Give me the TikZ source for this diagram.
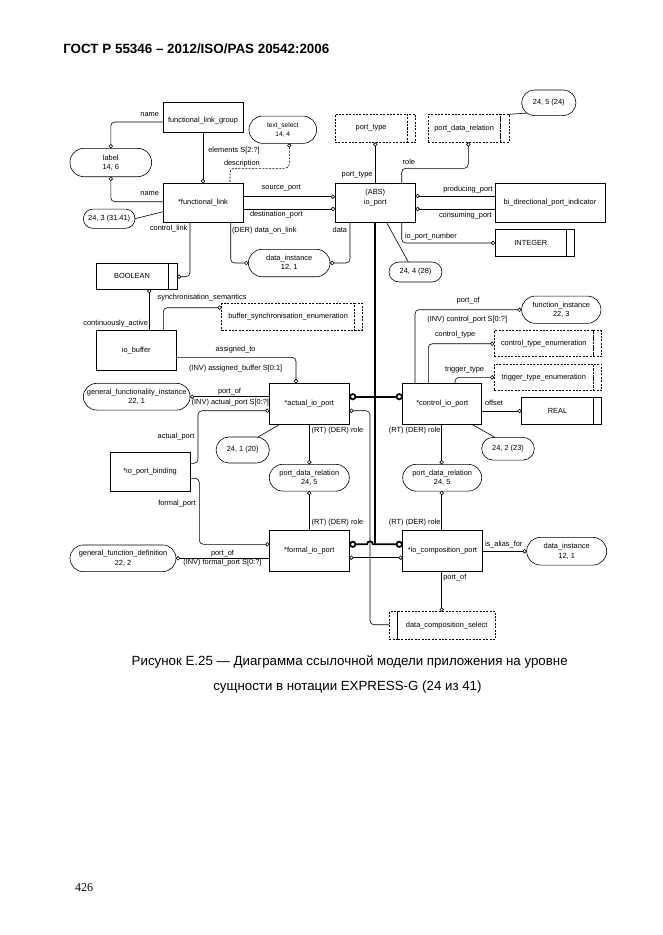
\documentclass[tikz,border=0pt]{standalone}
\usepackage{fontspec}
\setmainfont{Liberation Sans}
\newfontfamily\pgnumfont{Liberation Serif}
\usetikzlibrary{arrows.meta,shapes.misc}
\newcommand\dgf{\fontsize{7.4}{9.2}\selectfont}
\begin{document}
\begin{tikzpicture}[x=1pt,y=-1pt,
  every node/.style={inner sep=0pt, outer sep=0pt, font=\dgf},
  ent/.style={draw, line width=0.6pt, align=center},
  typ/.style={draw, dash pattern=on 2pt off 1.4pt, line width=0.6pt, align=center},
  pill/.style={draw, rounded rectangle, line width=0.6pt, align=center},
  conn/.style={line width=0.6pt},
  rc/.style={rounded corners=4pt},
  oc/.tip={Circle[open,length=4.2pt,width=4.2pt]},
  toc/.tip={Circle[open,length=7pt,width=7pt]},
  thk/.style={line width=1.7pt},
  mainl/.style={line width=2.4pt},
]
\fill[white] (0,0) rectangle (662,935);
\useasboundingbox (0,0) rectangle (662,935);

% header, caption, page number
\node[anchor=west, font=\fontsize{13.4}{15}\selectfont\bfseries] (hdr) at (63.3,49) {ГОСТ Р 55346 – 2012/ISO/PAS 20542:2006};
\node[anchor=west, font=\fontsize{13.3}{16}\selectfont] (cap1) at (131.7,661.5) {Рисунок Е.25 — Диаграмма ссылочной модели приложения на уровне};
\node[anchor=west, font=\fontsize{13.3}{16}\selectfont] (cap2) at (213.3,687) {сущности в нотации EXPRESS-G (24 из 41)};
\node[anchor=west, font=\pgnumfont\fontsize{12}{14}\selectfont] (pg) at (75,888) {426};

% entities
\node[ent,minimum width=80pt,minimum height=30pt] (flg) at (203,117) {};
\node (flgt) at (203,121) {functional\_link\_group};
\node[ent,minimum width=80pt,minimum height=39.4pt] (fl) at (203,203) {*functional\_link};
\node[ent,minimum width=80.5pt,minimum height=39.4pt] (iop) at (375.25,203) {};
\node[align=center] (iopt) at (375.25,197.5) {(ABS)\\io\_port};
\node[ent,minimum width=110pt,minimum height=39.4pt] (bdpi) at (550,203) {bi\_directional\_port\_indicator};
\node[ent,minimum width=80.7pt,minimum height=40pt] (iob) at (136.3,350.7) {io\_buffer};
\node[ent,minimum width=80pt,minimum height=41pt] (aip) at (309.3,403.8) {*actual\_io\_port};
\node[ent,minimum width=79pt,minimum height=41pt] (cip) at (442.2,403.8) {*control\_io\_port};
\node[ent,minimum width=80pt,minimum height=39pt] (ipb) at (150,471.5) {*io\_port\_binding};
\node[ent,minimum width=80pt,minimum height=40.3pt] (fip) at (309.3,550.8) {*formal\_io\_port};
\node[ent,minimum width=79.6pt,minimum height=40.3pt] (icp) at (442.5,550.8) {*io\_composition\_port};

% simple types
\node[ent,minimum width=72pt,minimum height=26pt] (bool) at (132,276) {BOOLEAN};
\node[ent,minimum width=9pt,minimum height=26pt,anchor=west] (bools) at (bool.east) {};
\node[ent,minimum width=71.7pt,minimum height=27.4pt] (int) at (530.85,243) {INTEGER};
\node[ent,minimum width=7.6pt,minimum height=27.4pt,anchor=west] (ints) at (int.east) {};
\node[ent,minimum width=71.6pt,minimum height=26.6pt] (real) at (557.5,411) {REAL};
\node[ent,minimum width=8.4pt,minimum height=26.6pt,anchor=west] (reals) at (real.east) {};

% defined types (dashed)
\node[typ,minimum width=72.3pt,minimum height=28pt] (pt) at (371.15,128.3) {port\_type};
\node[typ,minimum width=8.4pt,minimum height=28pt,anchor=west] (pts) at (pt.east) {};
\node[typ,minimum width=71.7pt,minimum height=28pt] (pdr) at (464.15,128.3) {port\_data\_relation};
\node[typ,minimum width=9pt,minimum height=28pt,anchor=west] (pdrs) at (pdr.east) {};
\node[typ,minimum width=132.8pt,minimum height=27.4pt] (bse) at (288.1,317) {buffer\_synchronisation\_enumeration};
\node[typ,minimum width=7.5pt,minimum height=27.4pt,anchor=west] (bses) at (bse.east) {};
\node[typ,minimum width=99pt,minimum height=26pt] (cte) at (543.8,343.7) {control\_type\_enumeration};
\node[typ,minimum width=8.4pt,minimum height=26pt,anchor=west] (ctes) at (cte.east) {};
\node[typ,minimum width=99pt,minimum height=26.7pt] (tte) at (543.8,377.35) {trigger\_type\_enumeration};
\node[typ,minimum width=8.4pt,minimum height=26.7pt,anchor=west] (ttes) at (tte.east) {};
\node[typ,minimum width=98pt,minimum height=27.3pt] (dcs) at (446.7,625.35) {data\_composition\_select};
\node[typ,minimum width=8.4pt,minimum height=27.3pt,anchor=east] (dcss) at (dcs.west) {};

% page references (pills)
\node[pill,minimum width=81.7pt,minimum height=28.4pt] (lbl) at (110.8,162.5) {label\\14, 6};
\node[pill,minimum width=67.7pt,minimum height=27.3pt,font=\fontsize{6.6}{8.8}\selectfont] (ts) at (282.8,129.7) {text\_select\\14, 4};
\node[pill,minimum width=51.7pt,minimum height=19.3pt] (p243) at (109.2,218.7) {24, 3 (31.41)};
\node[pill,minimum width=81.7pt,minimum height=27.4pt] (di1) at (289.2,263) {data\_instance\\12, 1};
\node[pill,minimum width=54.3pt,minimum height=25.7pt] (p245) at (548.8,102.8) {24, 5 (24)};
\node[pill,minimum width=53pt,minimum height=20pt] (p244) at (415.5,272) {24, 4 (28)};
\node[pill,minimum width=79.3pt,minimum height=27.3pt] (fi) at (561.3,309.7) {function\_instance\\22, 3};
\node[pill,minimum width=106.7pt,minimum height=26.7pt] (gfi) at (136.7,396.7) {general\_functionality\_instance\\22, 1};
\node[pill,minimum width=53.3pt,minimum height=26pt] (p241) at (242.7,450) {24, 1 (20)};
\node[pill,minimum width=52.6pt,minimum height=22.7pt] (p242) at (508,448.7) {24, 2 (23)};
\node[pill,minimum width=80pt,minimum height=26.7pt] (pdr1) at (309.3,477.7) {port\_data\_relation\\24, 5};
\node[pill,minimum width=79pt,minimum height=26.7pt] (pdr2) at (442.2,477.7) {port\_data\_relation\\24, 5};
\node[pill,minimum width=106pt,minimum height=26.7pt] (gfd) at (123,558.3) {general\_function\_definition\\22, 2};
\node[pill,minimum width=80pt,minimum height=27.7pt] (di2) at (566.7,551.2) {data\_instance\\12, 1};

% connectors
\draw[conn,rc,-{oc}] (flg.west |- 0,122) -| (lbl.north);
\draw[conn,rc,{oc}-] (lbl.south) |- (fl.west |- 0,201.7);
\draw[conn,-{oc}] (flg.south) -- (fl.north);
\draw[conn,rc,dash pattern=on 2pt off 1.4pt,{oc}-] (ts.south -| 289.3,0) -- (289.3,168.3) -- (230,168.3) -- (fl.north -| 230,0);
\draw[conn] (p243.east) -- (fl.west |- 0,211.7);
\draw[conn,rc,-{oc}] (fl.south -| 190,0) |- (bools.east |- 0,276.7);
\draw[conn,-{oc}] (fl.east |- 0,196.7) -- (iop.west |- 0,196.7);
\draw[conn,-{oc}] (fl.east |- 0,209) -- (iop.west |- 0,209);
\draw[conn,rc,-{oc}] (fl.south -| 230.7,0) |- (di1.west);
\draw[conn,rc,-{oc}] (iop.south -| 350,0) |- (di1.east);
\draw[conn,{oc}-] (pt.south -| 375.25,0) -- (iop.north);
\draw[conn,rc,{oc}-] (pdr.south -| 468.3,0) -- (468.3,168.3) -- (401.7,168.3) -- (iop.north -| 401.7,0);
\draw[conn] (pdrs.north east) -- (p245.205);
\draw[conn,{oc}-] (iop.east |- 0,196) -- (bdpi.west |- 0,196);
\draw[conn,{oc}-] (iop.east |- 0,209) -- (bdpi.west |- 0,209);
\draw[conn,rc,-{oc}] (iop.south -| 401.7,0) |- (int.west);
\draw[conn] (iop.south -| 386.7,0) -- (p244.north -| 408.3,0);

\draw[mainl] (iop.south) -- (iop.south |- 0,544.3);
\draw[thk,{toc}-{toc}] (aip.east |- 0,396.7) -- (cip.west |- 0,396.7);
\draw[thk,{toc}-{toc}] (fip.east |- 0,544.3) -- (367,544.3) arc[start angle=180,end angle=0,radius=3pt] -- (icp.west |- 0,544.3);
\draw[conn,rc,{oc}-] (aip.east |- 0,410.7) -- (370,410.7) -- (370,624.7) -- (dcss.west |- 0,624.7);
\draw[conn,{oc}-{oc}] (fip.east |- 0,557.7) -- (icp.west |- 0,557.7);

\draw[conn,{oc}-] (bool.south -| 149.3,0) -- (iob.north -| 149.3,0);
\draw[conn,rc,-{oc}] (iob.north -| 163.3,0) |- (bse.west |- 0,307.7);
\draw[conn,rc,-{oc}] (iob.east |- 0,357.3) -| (aip.north -| 296,0);
\draw[conn,{oc}-] (gfi.east) -- (aip.west |- gfi.east);
\draw[conn,rc,-{oc}] (ipb.east |- 0,463.3) -- (198,463.3) -- (198,410.7) -- (aip.west |- 0,410.7);
\draw[conn] (aip.south -| 280,0) -- (p241.north -| 258,0);
\draw[conn,-{oc}] (aip.south -| 309.3,0) -- (pdr1.north);
\draw[conn,{oc}-] (pdr1.south) -- (fip.north -| pdr1.south);
\draw[conn,rc,-{oc}] (ipb.east |- 0,478.3) -- (199.3,478.3) -- (199.3,544.3) -- (fip.west |- 0,544.3);
\draw[conn,{oc}-] (gfd.east) -- (fip.west |- gfd.east);
\draw[conn,rc,-{oc}] (cip.north -| 415,0) |- (fi.west);
\draw[conn,rc,-{oc}] (cip.north -| 428.3,0) |- (cte.west);
\draw[conn,rc,-{oc}] (cip.north -| 455,0) |- (tte.west);
\draw[conn,-{oc}] (cip.east |- real.west) -- (real.west);
\draw[conn] (cip.south -| 471.7,0) -- (p242.north -| 495,0);
\draw[conn,-{oc}] (cip.south -| 441.7,0) -- (pdr2.north -| 441.7,0);
\draw[conn,{oc}-] (pdr2.south -| 441.7,0) -- (icp.north -| 441.7,0);
\draw[conn,-{oc}] (icp.east |- di2.west) -- (di2.west);
\draw[conn,-{oc}] (icp.south -| 441.7,0) -- (dcs.north -| 441.7,0);

% connector labels
\node[anchor=east] (n1) at (159,114.5) {name};
\node[anchor=east] (n2) at (159,194) {name};
\node[anchor=west] (elm) at (208.3,151) {elements S[2:?]};
\node[anchor=west] (desc) at (224,163.5) {description};
\node[anchor=west] (srcp) at (261.7,187.7) {source\_port};
\node[anchor=west] (dstp) at (250,214.3) {destination\_port};
\node[anchor=west] (ctl) at (150,229) {control\_link};
\node[anchor=west] (dol) at (232,230.7) {(DER) data\_on\_link};
\node[anchor=west] (dat) at (332.7,230) {data};
\node[anchor=west] (ptl) at (341.7,175) {port\_type};
\node[anchor=west] (rol) at (402.7,162.3) {role};
\node[anchor=west] (prodp) at (443.3,189.3) {producing\_port};
\node[anchor=west] (consp) at (439,215.7) {consuming\_port};
\node[anchor=west] (ipn) at (405,236.7) {io\_port\_number};
\node[anchor=west] (synsem) at (157.7,297.7) {synchronisation\_semantics};
\node[anchor=east] (conta) at (148,323.3) {continuously\_active};
\node[anchor=west] (asgto) at (215.7,350) {assigned\_to};
\node[anchor=west] (asgbuf) at (189,368.3) {(INV) assigned\_buffer S[0:1]};
\node[anchor=west] (pof1) at (218,391.5) {port\_of};
\node[anchor=west] (actp1) at (191.7,402.3) {(INV) actual\_port S[0:?]};
\node[anchor=west] (actport) at (157.7,436.7) {actual\_port};
\node[anchor=west] (rt1) at (311.7,431) {(RT) (DER) role};
\node[anchor=west] (rt2) at (311.7,522.3) {(RT) (DER) role};
\node[anchor=west] (formport) at (158.3,504) {formal\_port};
\node[anchor=west] (pof2) at (211,553.3) {port\_of};
\node[anchor=west] (fpl) at (183.3,562.3) {(INV) formal\_port S[0:?]};
\node[anchor=west] (pof3) at (456.7,301) {port\_of};
\node[anchor=west] (ctlp) at (427.3,319.3) {(INV) control\_port S[0:?]};
\node[anchor=west] (ctype) at (435,335) {control\_type};
\node[anchor=west] (ttype) at (445,370) {trigger\_type};
\node[anchor=west] (offs) at (485,403.3) {offset};
\node[anchor=east] (rt3) at (440.5,431) {(RT) (DER) role};
\node[anchor=east] (rt4) at (440.5,522.3) {(RT) (DER) role};
\node[anchor=west] (alias) at (485,544.3) {is\_alias\_for};
\node[anchor=west] (pof4) at (443.3,577.3) {port\_of};
\end{tikzpicture}
\end{document}
